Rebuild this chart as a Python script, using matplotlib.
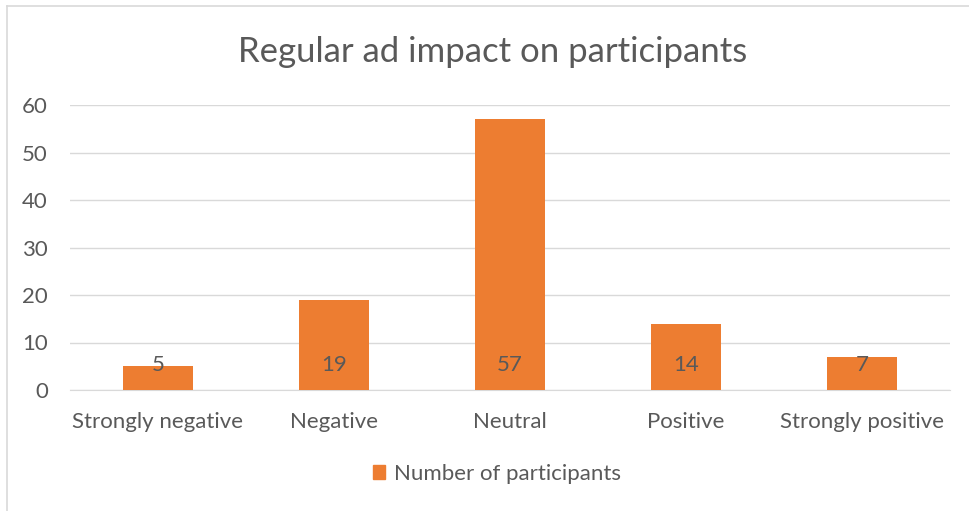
import matplotlib.pyplot as plt
from matplotlib.lines import Line2D

categories = ["Strongly negative", "Negative", "Neutral", "Positive", "Strongly positive"]
participants = [5, 19, 57, 14, 7]

orange = "#ED7D31"
textc = "#595959"
gridc = "#D9D9D9"

plt.rcParams['font.family'] = ['Lato', 'DejaVu Sans']

fig = plt.figure(figsize=(9.69, 5.11), dpi=100)
W, H = 969, 511
ax = fig.add_axes([70 / W, 1 - 390 / H, 880 / W, (390 - 105) / H])

x = list(range(len(categories)))
ax.bar(x, participants, width=0.4, color=orange, zorder=3, label="Number of participants")
for xi, v in zip(x, participants):
    ax.text(xi, 5.3, str(v), ha='center', va='center', fontsize=16, color=textc, zorder=4)

ax.set_xlim(-0.5, len(categories) - 0.5)
ax.set_ylim(0, 60)
ax.set_yticks(range(0, 61, 10))
ax.grid(axis='y', color=gridc, linewidth=1, zorder=0)
ax.set_xticks(x)
ax.set_xticklabels(categories)
ax.tick_params(axis='both', length=0, labelsize=16, colors=textc)
ax.tick_params(axis='x', pad=16)
ax.tick_params(axis='y', pad=16)
for s in ['top', 'right', 'left']:
    ax.spines[s].set_visible(False)
ax.spines['bottom'].set_color(gridc)

fig.text(493 / W, 1 - 52 / H, "Regular ad impact on participants", ha='center', va='center',
         fontsize=25, color=textc)

leg = fig.legend(handles=[plt.Rectangle((0, 0), 1, 1, color=orange)], labels=["Number of participants"],
                 loc='center', bbox_to_anchor=(497 / W, 1 - 474 / H), frameon=False,
                 fontsize=16, handlelength=0.55, handleheight=0.55, handletextpad=0.4)
for t in leg.get_texts():
    t.set_color(textc)

# outer chart frame (left and top edges visible)
fig.add_artist(Line2D([7 / W, 7 / W], [0, 1 - 6 / H], color=gridc, linewidth=1.2))
fig.add_artist(Line2D([7 / W, 1], [1 - 6 / H, 1 - 6 / H], color=gridc, linewidth=1.2))

fig.savefig("out.png", dpi=100)
